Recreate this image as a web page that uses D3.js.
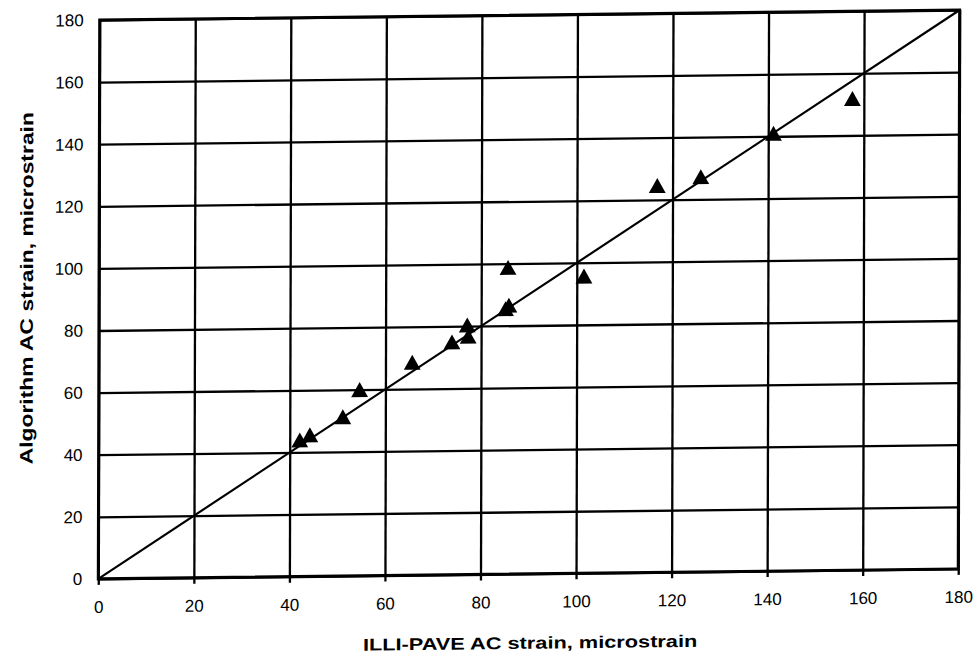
<!DOCTYPE html>
<html>
<head>
<meta charset="utf-8">
<script src="https://cdn.jsdelivr.net/npm/d3@7"></script>
<style>
  body { margin: 0; background: #fff; }
  text { font-family: "Liberation Sans", Arial, sans-serif; fill: #000; }
</style>
</head>
<body>
<div id="canvas"></div>
<script>
//    data
var illiPave  = [42.1, 44.2, 51.1, 54.6, 65.6, 73.9, 77.1, 77.3, 85.1, 85.8, 85.6, 101.5, 116.8, 125.9, 141.1, 157.6];
var algorithm = [44.0, 45.6, 51.3, 60.0, 68.6, 75.0, 80.4, 76.8, 85.5, 86.6, 98.8, 95.7, 124.6, 127.3, 141.0, 151.9];
var tickValues = [0, 20, 40, 60, 80, 100, 120, 140, 160, 180];
var equality = [0, 180];

var xTitle = 'ILLI-PAVE AC strain, microstrain';
var yTitle = 'Algorithm AC strain, microstrain';

//    defination
var W = 859;
var H = 560;

var x = d3.scaleLinear().domain([0, 180]).range([0, W]);
var y = d3.scaleLinear().domain([0, 180]).range([H, 0]);

// bbox-centred triangle, like the spreadsheet marker
var triangle = {
    draw: function(ctx, size) {
        var s = Math.sqrt(size);
        ctx.moveTo(0, -s / 2);
        ctx.lineTo(s * 0.56, s / 2);
        ctx.lineTo(-s * 0.56, s / 2);
        ctx.closePath();
    }
};

var svg = d3.select('#canvas')
    .append('svg')
    .attr('width', 977)
    .attr('height', 656);

// the source scan is a little skewed, so the whole plot is too
var g = svg.append('g')
    .attr('transform', 'matrix(1.0011,-0.01164,-0.0025,0.998,99.7,20)');

//    grid + axes
var xAxis = g.append('g')
    .attr('transform', 'translate(0,' + (H + 6) + ')')
    .call(d3.axisBottom(x)
        .tickValues(tickValues)
        .tickSizeInner(-(H + 6))
        .tickSizeOuter(0)
        .tickPadding(16));

var yAxis = g.append('g')
    .call(d3.axisLeft(y)
        .tickValues(tickValues)
        .tickSizeInner(-W)
        .tickSizeOuter(0)
        .tickPadding(16));

g.selectAll('.domain').remove();
g.selectAll('.tick line')
    .attr('stroke', '#000')
    .attr('stroke-width', 2.3);
g.selectAll('.tick text')
    .style('font-size', '17px')
    .attr('fill', '#000');

g.append('rect')
    .attr('x', 0)
    .attr('y', 0)
    .attr('width', W)
    .attr('height', H)
    .attr('fill', 'none')
    .attr('stroke', '#000')
    .attr('stroke-width', 3);

//    1:1 line
g.append('path')
    .datum(equality)
    .attr('d', d3.line()
        .x(function(d) { return x(d); })
        .y(function(d) { return y(d); }))
    .attr('fill', 'none')
    .attr('stroke', '#000')
    .attr('stroke-width', 2.2);

//    points
g.selectAll('.pt')
    .data(d3.range(illiPave.length))
    .enter()
    .append('path')
    .attr('class', 'pt')
    .attr('transform', function(i) {
        return 'translate(' + x(illiPave[i]) + ',' + y(algorithm[i]) + ')';
    })
    .attr('d', d3.symbol().type(triangle).size(225))
    .attr('fill', '#000');

//    titles
g.append('text')
    .attr('x', W / 2 + 2)
    .attr('y', 635)
    .attr('text-anchor', 'middle')
    .attr('textLength', 334)
    .attr('lengthAdjust', 'spacingAndGlyphs')
    .style('font-size', '17px')
    .style('font-weight', 'bold')
    .text(xTitle);

g.append('text')
    .attr('transform', 'translate(-66,268) rotate(-90)')
    .attr('text-anchor', 'middle')
    .attr('textLength', 353)
    .attr('lengthAdjust', 'spacingAndGlyphs')
    .style('font-size', '18px')
    .style('font-weight', 'bold')
    .text(yTitle);
</script>
</body>
</html>
